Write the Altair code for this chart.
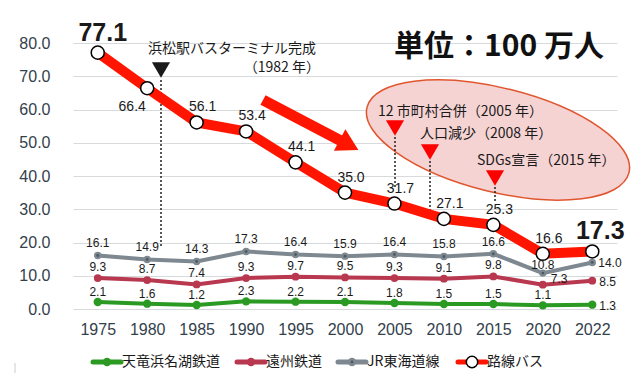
import altair as alt
import pandas as pd

# ---------------- data ----------------
years = ["1975", "1980", "1985", "1990", "1995", "2000", "2005", "2010", "2015", "2020", "2022"]
bus = [77.1, 66.4, 56.1, 53.4, 44.1, 35.0, 31.7, 27.1, 25.3, 16.6, 17.3]
jr = [16.1, 14.9, 14.3, 17.3, 16.4, 15.9, 16.4, 15.8, 16.6, 10.8, 14.0]
enshu = [9.3, 8.7, 7.4, 9.3, 9.7, 9.5, 9.3, 9.1, 9.8, 7.3, 8.5]
tenhama = [2.1, 1.6, 1.2, 2.3, 2.2, 2.1, 1.8, 1.5, 1.5, 1.1, 1.3]
series_names = ["天竜浜名湖鉄道", "遠州鉄道", "JR東海道線", "路線バス"]
unit_text = "単位：100 万人"
terminal_text = ["浜松駅バスターミナル完成", "（1982 年）"]
event_texts = ["12 市町村合併（2005 年）", "人口減少（2008 年）", "SDGs宣言（2015 年）"]

# ---------------- styles ----------------
series_colors = ["#2b9a22", "#b8384f", "#7d8890", "#ff1500"]
NUM = "Liberation Sans"
JP = "Noto Sans CJK JP"
AX = "#33414c"
TXT = "#1a1a1a"
legend_x0 = [20, 164, 265, 385]

rows = []
for name, vals in zip(series_names, [tenhama, enshu, jr, bus]):
    for y, v in zip(years, vals):
        rows.append({"year": y, "series": name, "value": v})
df = pd.DataFrame(rows)
one = pd.DataFrame({"k": [0]})

xs = alt.X("year:O", scale=alt.Scale(type="point", padding=0.5, domain=years),
           axis=alt.Axis(title=None, labelFontSize=16, labelFont=NUM, labelColor=AX,
                         labelPadding=12, labelAngle=0, domain=False, ticks=False, grid=False))
ys = alt.Y("value:Q", scale=alt.Scale(domain=[0, 80], nice=False),
           axis=alt.Axis(title=None, values=list(range(0, 81, 10)), format=".1f",
                         labelFontSize=16, labelFont=NUM, labelColor=AX, labelPadding=23,
                         domain=False, ticks=False, gridColor="#d6dadd", gridWidth=1))
base = alt.Chart(df).encode(x=xs, y=ys)


def sel(name):
    return base.transform_filter(alt.datum.series == name)


def labels(name, size, dx, dy, only=None, exclude=None, align="center", weight="normal"):
    c = sel(name)
    if only is not None:
        c = c.transform_filter(alt.FieldOneOfPredicate(field="year", oneOf=only))
    if exclude is not None:
        lst = ",".join("'%s'" % e for e in exclude)
        c = c.transform_filter("indexof([%s], datum.year) < 0" % lst)
    return c.mark_text(dx=dx, dy=dy, fontSize=size, font=NUM, color=TXT, align=align,
                       baseline="middle", fontWeight=weight).encode(
        text=alt.Text("value:Q", format=".1f"))


layers = []

# ellipse highlight
ell_path = "M -1 0 A 1 0.385 0 1 0 1 0 A 1 0.385 0 1 0 -1 0 Z"
layers.append(alt.Chart(one).mark_point(shape=ell_path, size=72900, angle=14, filled=True,
                                        fill="#f6d3d3", stroke="#e0552e", strokeWidth=1.5,
                                        opacity=1).encode(x=alt.value(425), y=alt.value(97)))

# dotted guide lines
for gx, gy1, gy2 in [(88, 37, 204), (322, 94, 145), (357, 118, 167), (422, 144, 158)]:
    layers.append(alt.Chart(one).mark_rule(color="#222222", strokeWidth=1.5, strokeDash=[2, 2]).encode(
        x=alt.value(gx), y=alt.value(gy1), y2=alt.value(gy2)))

# triangles
layers.append(alt.Chart(one).mark_point(shape="triangle-down", filled=True, color="#1a1a1a",
                                        size=330, opacity=1).encode(x=alt.value(88), y=alt.value(27)))
for tx, ty in [(322, 85), (357, 109), (422, 135)]:
    layers.append(alt.Chart(one).mark_point(shape="triangle-down", filled=True, color="#ff0000",
                                            size=330, opacity=1).encode(x=alt.value(tx), y=alt.value(ty)))

# annotation texts
layers.append(alt.Chart(one).mark_text(font=JP, fontSize=14, color=TXT, align="left", baseline="middle").encode(
    x=alt.value(75), y=alt.value(6), text=alt.value(terminal_text[0])))
layers.append(alt.Chart(one).mark_text(font=JP, fontSize=14, color=TXT, align="right", baseline="middle").encode(
    x=alt.value(247), y=alt.value(25), text=alt.value(terminal_text[1])))
for (tx, ty), t in zip([(305, 69), (347, 91), (404, 118)], event_texts):
    layers.append(alt.Chart(one).mark_text(font=JP, fontSize=14, color=TXT, align="left", baseline="middle").encode(
        x=alt.value(tx), y=alt.value(ty), text=alt.value(t)))

# unit title
layers.append(alt.Chart(one).mark_text(font=JP, fontSize=30, fontWeight="bold", color="#111111",
                                       align="center", baseline="middle").encode(
    x=alt.value(426), y=alt.value(4), text=alt.value(unit_text)))

# big arrow
layers.append(alt.Chart(one).mark_rule(color="#ff1500", strokeWidth=11, strokeCap="butt").encode(
    x=alt.value(190), y=alt.value(57), x2=alt.value(272), y2=alt.value(100)))
layers.append(alt.Chart(one).mark_point(shape="triangle-right", filled=True, color="#ff1500",
                                        size=600, angle=28, opacity=1).encode(
    x=alt.value(276), y=alt.value(102)))

# series lines and points
tn, en, jn, bn = series_names
layers.append(sel(tn).mark_line(color=series_colors[0], strokeWidth=4))
layers.append(sel(tn).mark_circle(color=series_colors[0], size=70, opacity=1))
layers.append(sel(en).mark_line(color=series_colors[1], strokeWidth=4))
layers.append(sel(en).mark_circle(color=series_colors[1], size=60, opacity=1))
layers.append(sel(jn).mark_line(color=series_colors[2], strokeWidth=4))
layers.append(sel(jn).mark_circle(color=series_colors[2], size=55, opacity=1))
layers.append(sel(jn).mark_circle(color="#4e5962", size=8, opacity=1))
layers.append(sel(bn).mark_line(color=series_colors[3], strokeWidth=10))
layers.append(sel(bn).mark_point(shape="circle", filled=True, fill="white", stroke="black",
                                 strokeWidth=1.5, size=170, opacity=1))

# value labels
layers.append(labels(tn, 12, 0, -10, exclude=["2022"]))
layers.append(labels(tn, 12, 7, 1, only=["2022"], align="left"))
layers.append(labels(en, 12, 0, -11, exclude=["2020", "2022"]))
layers.append(labels(en, 12, 8, -6, only=["2020"], align="left"))
layers.append(labels(en, 12, 7, 1, only=["2022"], align="left"))
layers.append(labels(jn, 12, 0, -12, exclude=["2020", "2022"]))
layers.append(labels(jn, 12, 0, -8, only=["2020"]))
layers.append(labels(jn, 12, 6, 1, only=["2022"], align="left"))
layers.append(labels(bn, 14, 6, -15, exclude=["1975", "1980", "2022"]))
layers.append(labels(bn, 14, -15, 19, only=["1980"]))
layers.append(labels(bn, 25, 5, -20, only=["1975"], weight="bold"))
layers.append(labels(bn, 25, 8, -20, only=["2022"], weight="bold"))

# legend
df_leg = pd.DataFrame({"name": series_names, "x0": legend_x0})
color_scale = alt.Scale(domain=series_names, range=series_colors)
leg = alt.Chart(df_leg).transform_calculate(
    x1="datum.x0 + 28", xc="datum.x0 + 14", xt="datum.x0 + 29")
layers.append(leg.mark_rule(strokeCap="round").encode(
    x=alt.X("x0:Q", scale=None), x2="x1:Q", y=alt.value(319),
    color=alt.Color("name:N", scale=color_scale, legend=None),
    size=alt.Size("name:N", scale=alt.Scale(domain=series_names, range=[5, 5, 5, 8]), legend=None)))
layers.append(leg.transform_filter(alt.datum.name != bn).mark_circle(size=70, opacity=1).encode(
    x=alt.X("xc:Q", scale=None), y=alt.value(319),
    color=alt.Color("name:N", scale=color_scale, legend=None)))
layers.append(leg.transform_filter(alt.datum.name == jn).mark_circle(size=8, opacity=1, color="#4e5962").encode(
    x=alt.X("xc:Q", scale=None), y=alt.value(319)))
layers.append(leg.transform_filter(alt.datum.name == bn).mark_point(
    shape="circle", filled=True, fill="white", stroke="black", strokeWidth=1.5, size=130, opacity=1).encode(
    x=alt.X("xc:Q", scale=None), y=alt.value(319)))
layers.append(leg.mark_text(font=JP, fontSize=14, color=TXT, align="left", baseline="middle").encode(
    x=alt.X("xt:Q", scale=None), y=alt.value(319), text="name:N"))

# small grey mark bottom-left
layers.append(alt.Chart(one).mark_rule(color="#c8ccd0", strokeWidth=1).encode(
    x=alt.value(-58), y=alt.value(320), y2=alt.value(330)))

chart = alt.layer(*layers).properties(
    width=544, height=266,
    autosize=alt.AutoSizeParams(type="none"),
    padding={"left": 65, "top": 35, "right": 15, "bottom": 70},
    background="white",
).configure_view(stroke=None)

chart.save("out.html", embed_options={"renderer": "svg", "actions": False})
